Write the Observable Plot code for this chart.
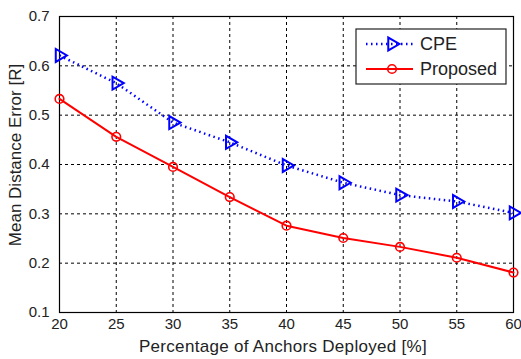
<!DOCTYPE html>
<html><head><meta charset="utf-8">
<script src="https://cdn.jsdelivr.net/npm/d3@7"></script>
<script src="https://cdn.jsdelivr.net/npm/@observablehq/plot@0.6"></script>
<style>
body{margin:0;background:#fff}
#chart{width:521px;height:359px}
</style>
</head><body><div id="chart"></div>
<script>
const anchors = [20, 25, 30, 35, 40, 45, 50, 55, 60];
const cpe = [0.621, 0.565, 0.485, 0.445, 0.398, 0.363, 0.338, 0.325, 0.302];
const proposed = [0.533, 0.456, 0.395, 0.334, 0.276, 0.251, 0.233, 0.211, 0.181];
const xTicks = [20, 25, 30, 35, 40, 45, 50, 55, 60];
const yTicks = [0.1, 0.2, 0.3, 0.4, 0.5, 0.6, 0.7];
const seriesNames = ["CPE", "Proposed"];
const xLabel = "Percentage of Anchors Deployed [%]";
const yLabel = "Mean Distance Error [R]";

(function () {
const cpeData = anchors.map((a, i) => ({x: a, y: cpe[i]}));
const propData = anchors.map((a, i) => ({x: a, y: proposed[i]}));
const FONT = "'Liberation Sans', Arial, sans-serif";

const plot = Plot.plot({
  width: 521, height: 359,
  marginLeft: 59, marginTop: 16, marginRight: 8, marginBottom: 47,
  style: {fontFamily: FONT, fontSize: "15px", color: "#222", background: "#fff"},
  x: {domain: [20, 60]},
  y: {domain: [0.1, 0.7]},
  marks: [
    Plot.ruleX(xTicks, {stroke: "#000", strokeDasharray: "3,3", strokeWidth: 1}),
    Plot.ruleY(yTicks, {stroke: "#000", strokeDasharray: "3,3", strokeWidth: 1}),
    Plot.frame({stroke: "#000", strokeWidth: 1.2}),
    Plot.axisX({ticks: xTicks, tickFormat: d3.format("d"), tickSize: 0, tickPadding: 6, label: null, fontSize: 15}),
    Plot.axisY({ticks: yTicks, tickFormat: d3.format(".1f"), tickSize: 0, tickPadding: 10, label: null, fontSize: 15}),
    Plot.line(cpeData, {x: "x", y: "y", stroke: "#0000ff", strokeWidth: 2.5, strokeDasharray: "1.5,3.5", strokeLinecap: "butt"}),
    Plot.dot(cpeData, {x: "x", y: "y", symbol: "triangle", rotate: 90, r: 4.8, stroke: "#0000ff", strokeWidth: 2, fill: "none"}),
    Plot.line(propData, {x: "x", y: "y", stroke: "#ff0000", strokeWidth: 2}),
    Plot.dot(propData, {x: "x", y: "y", symbol: "circle", r: 4.3, stroke: "#ff0000", strokeWidth: 1.6, fill: "none"})
  ]
});
document.getElementById("chart").appendChild(plot);

const svg = d3.select(plot);
const xs = plot.scale("x"), ys = plot.scale("y");
const pRight = xs.range[1], pTop = ys.range[1], pBottom = ys.range[0], pLeft = xs.range[0];

// axis titles
svg.append("text").attr("x", (pLeft + pRight) / 2 - 3).attr("y", 352)
  .attr("text-anchor", "middle").attr("font-family", FONT).attr("font-size", 17)
  .attr("letter-spacing", 0.3).attr("fill", "#222").text(xLabel);
svg.append("text").attr("transform", `translate(21,${(pTop + pBottom) / 2 - 9}) rotate(-90)`)
  .attr("text-anchor", "middle").attr("font-family", FONT).attr("font-size", 17)
  .attr("fill", "#222").text(yLabel);

// legend
const lg = svg.append("g").attr("transform", `translate(${pRight - 157},${pTop + 13})`);
lg.append("rect").attr("width", 150).attr("height", 55).attr("fill", "#fff").attr("stroke", "#222").attr("stroke-width", 1.2);
const rows = [
  {name: seriesNames[0], color: "#0000ff", dash: "1.5,3.5", w: 2.5, sym: d3.symbolTriangle, rot: 90, size: Math.PI * 4.8 * 4.8, sw: 2},
  {name: seriesNames[1], color: "#ff0000", dash: null, w: 2, sym: d3.symbolCircle, rot: 0, size: Math.PI * 4.3 * 4.3, sw: 1.6}
];
rows.forEach((r, i) => {
  const cy = 15 + i * 25;
  lg.append("line").attr("x1", 10).attr("x2", 57).attr("y1", cy).attr("y2", cy)
    .attr("stroke", r.color).attr("stroke-width", r.w).attr("stroke-dasharray", r.dash);
  lg.append("path").attr("d", d3.symbol(r.sym, r.size)()).attr("transform", `translate(36,${cy}) rotate(${r.rot})`)
    .attr("fill", "none").attr("stroke", r.color).attr("stroke-width", r.sw);
  lg.append("text").attr("x", 64).attr("y", cy).attr("dy", "0.35em").attr("text-anchor", "start")
    .attr("font-family", FONT).attr("font-size", 18).attr("fill", "#222").text(r.name);
});
})();
</script>
</body></html>
